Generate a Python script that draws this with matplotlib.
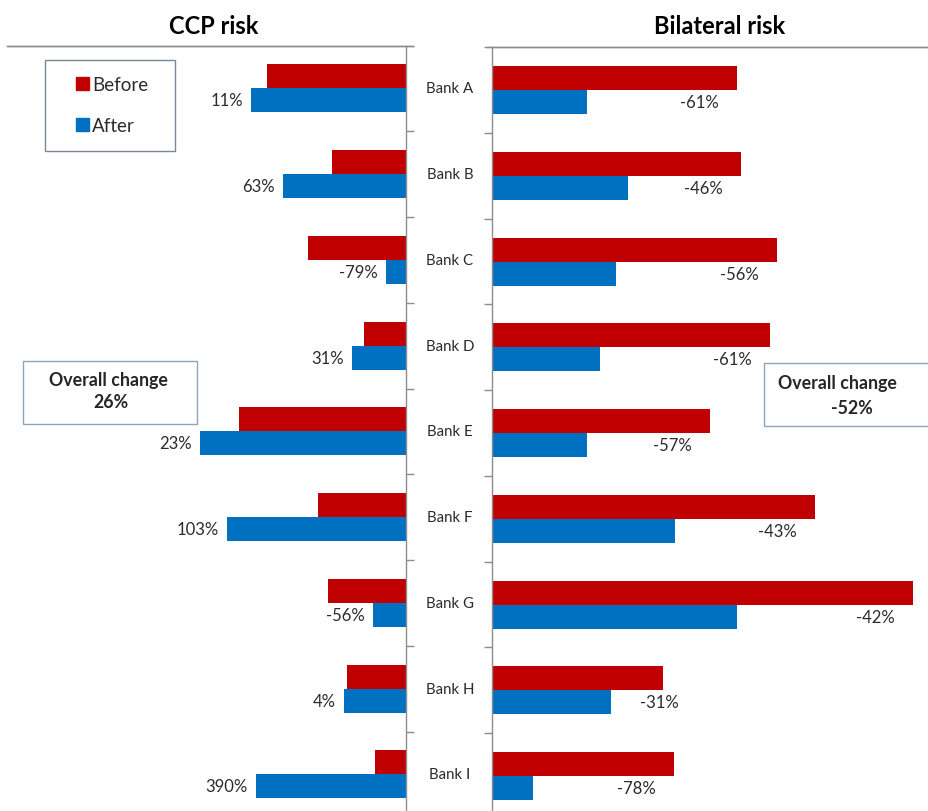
import matplotlib
matplotlib.use("Agg")
import matplotlib.pyplot as plt
from matplotlib.patches import Patch, Rectangle
import numpy as np

plt.rcParams['font.family'] = ['Lato', 'DejaVu Sans']

banks = ['Bank A', 'Bank B', 'Bank C', 'Bank D', 'Bank E',
         'Bank F', 'Bank G', 'Bank H', 'Bank I']

# exposures (arbitrary units)
ccp_before = [139, 74, 98, 42, 167, 88, 78, 59, 31]
ccp_after = [155, 123, 20, 54, 206, 179, 33, 62, 150]
ccp_change = [11, 63, -79, 31, 23, 103, -56, 4, 390]

bil_before = [245, 249, 285, 278, 218, 323, 421, 171, 182]
bil_after = [95, 136, 124, 108, 95, 183, 245, 119, 41]
bil_change = [-61, -46, -56, -61, -57, -43, -42, -31, -78]

overall_ccp = 26
overall_bil = -52

RED = '#C00000'
BLUE = '#0070C0'
GREY = '#8c8c8c'
TXT = '#2b2b2b'

W, H = 929, 812
fig = plt.figure(figsize=(W / 100, H / 100), dpi=100)

band = 85.75
ax_h = 9 * band / H
axl = fig.add_axes([7 / W, (H - 46.6 - 9 * band) / H, 399 / W, ax_h])
axr = fig.add_axes([492 / W, (H - 48.2 - 9 * band) / H, 437 / W, ax_h])

y = np.arange(len(banks))
bh = 0.28

for ax, before, after in [(axl, ccp_before, ccp_after),
                          (axr, bil_before, bil_after)]:
    ax.barh(y - bh / 2, before, height=bh, color=RED)
    ax.barh(y + bh / 2, after, height=bh, color=BLUE)
    ax.set_ylim(8.5, -0.5)
    ax.set_yticks(np.arange(-0.5, 9, 1))
    ax.set_yticklabels([])
    ax.set_xticks([])
    ax.spines['bottom'].set_visible(False)
    for s in ax.spines.values():
        s.set_color(GREY)
        s.set_linewidth(1.0)
    ax.tick_params(axis='y', length=6, width=1.0, color=GREY, direction='out')

axl.set_xlim(399, 0)
axl.spines['left'].set_visible(False)
axl.yaxis.tick_right()
axl.plot([0, 1 + 7 / 399], [1, 1], transform=axl.transAxes, color=GREY,
         lw=1.0, clip_on=False)

axr.set_xlim(0, 437)
axr.spines['right'].set_visible(False)
axr.plot([-5 / 437, 1], [1, 1], transform=axr.transAxes, color=GREY,
         lw=1.0, clip_on=False)

# change labels
for i, (a, c) in enumerate(zip(ccp_after, ccp_change)):
    axl.text(a + 8, i + bh / 2, f'{c}%', ha='right', va='center',
             fontsize=12, color=TXT)
for i, (b, a, c) in enumerate(zip(bil_before, bil_after, bil_change)):
    xc = max(b - 38, a + 48)
    axr.text(xc, i + bh / 2, f'{c}%', ha='center', va='center',
             fontsize=12, color=TXT)

# bank names in the gap
for i, name in enumerate(banks):
    yc = 1 - (46.6 + band * (i + 0.5)) / H
    fig.text(450 / W, yc, name, ha='center', va='center', fontsize=10.8,
             color=TXT)

# titles
fig.text(214 / W, 1 - 27 / H, 'CCP risk', ha='center', va='center',
         fontsize=17, fontweight='bold', color='black')
fig.text(720 / W, 1 - 27 / H, 'Bilateral risk', ha='center', va='center',
         fontsize=17, fontweight='bold', color='black')

# legend
fig.patches.append(Rectangle((45 / W, 1 - 152 / H), 130 / W, 91 / H,
                             transform=fig.transFigure, fill=False,
                             edgecolor='#7a8796', lw=1.0))
handles = [Patch(color=RED, label='Before'), Patch(color=BLUE, label='After')]
fig.legend(handles=handles, loc='center', bbox_to_anchor=(112 / W, 1 - 106 / H),
           frameon=False, fontsize=13.5, handlelength=0.7, handleheight=0.7,
           handletextpad=0.15, labelspacing=1.25, labelcolor=TXT)

# overall change boxes
box_col = '#8ea4ba'
fig.patches.append(Rectangle((23 / W, 1 - 425 / H), 174 / W, 63 / H,
                             transform=fig.transFigure, fill=False,
                             edgecolor=box_col, lw=1.0))
fig.text(108 / W, 1 - 381 / H, 'Overall change', ha='center', va='center',
         fontsize=12.8, fontweight='bold', color='#262626')
fig.text(111 / W, 1 - 403 / H, f'{overall_ccp}%', ha='center', va='center',
         fontsize=12.8, fontweight='bold', color='#262626')

fig.patches.append(Rectangle((764 / W, 1 - 427 / H), 170 / W, 63 / H,
                             transform=fig.transFigure, fill=False,
                             edgecolor=box_col, lw=1.0))
fig.text(837 / W, 1 - 384 / H, 'Overall change', ha='center', va='center',
         fontsize=12.8, fontweight='bold', color='#262626')
fig.text(852 / W, 1 - 408 / H, f'{overall_bil}%', ha='center', va='center',
         fontsize=12.8, fontweight='bold', color='#262626')

fig.savefig('out.png', dpi=100)
